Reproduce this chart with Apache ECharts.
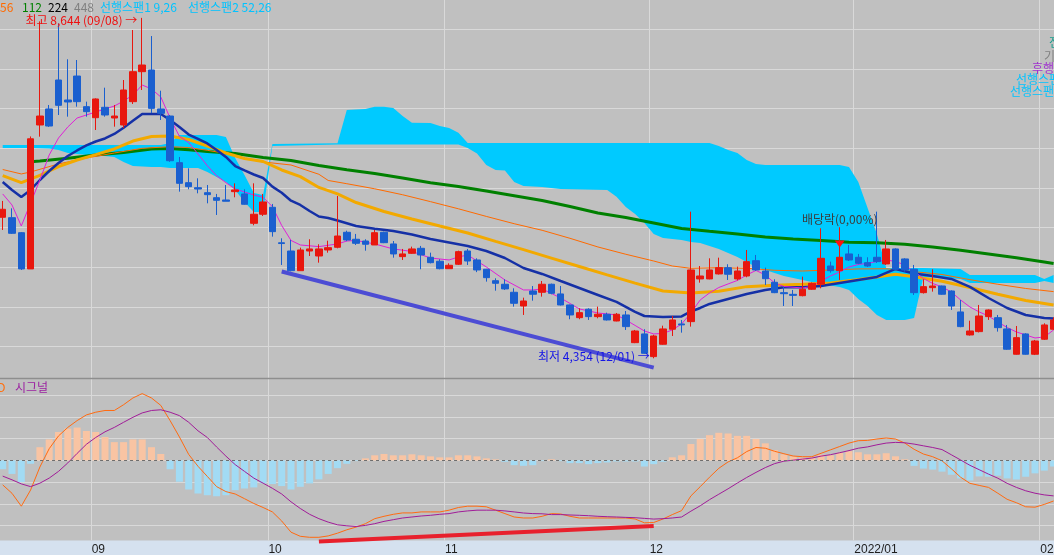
<!DOCTYPE html>
<html><head><meta charset="utf-8">
<script src="https://cdn.jsdelivr.net/npm/echarts@6/dist/echarts.min.js"></script>
<style>html,body{margin:0;padding:0;background:#c0c0c0;}#c{width:1054px;height:555px;}</style>
</head><body><div id="c"></div><script>
const categories = [
'2021-08-18','2021-08-19','2021-08-20','2021-08-23','2021-08-24','2021-08-25','2021-08-26','2021-08-27','2021-08-30','2021-08-31',
'2021-09-01','2021-09-02','2021-09-03','2021-09-06','2021-09-07','2021-09-08','2021-09-09','2021-09-10','2021-09-13','2021-09-14',
'2021-09-15','2021-09-16','2021-09-17','2021-09-23','2021-09-24','2021-09-27','2021-09-28','2021-09-29','2021-09-30',
'2021-10-01','2021-10-05','2021-10-06','2021-10-07','2021-10-08','2021-10-12','2021-10-13','2021-10-14','2021-10-15','2021-10-18',
'2021-10-19','2021-10-20','2021-10-21','2021-10-22','2021-10-25','2021-10-26','2021-10-27','2021-10-28','2021-10-29',
'2021-11-01','2021-11-02','2021-11-03','2021-11-04','2021-11-05','2021-11-08','2021-11-09','2021-11-10','2021-11-11','2021-11-12',
'2021-11-15','2021-11-16','2021-11-17','2021-11-18','2021-11-19','2021-11-22','2021-11-23','2021-11-24','2021-11-25','2021-11-26',
'2021-11-29','2021-11-30',
'2021-12-01','2021-12-02','2021-12-03','2021-12-06','2021-12-07','2021-12-08','2021-12-09','2021-12-10','2021-12-13','2021-12-14',
'2021-12-15','2021-12-16','2021-12-17','2021-12-20','2021-12-21','2021-12-22','2021-12-23','2021-12-24','2021-12-27','2021-12-28',
'2021-12-29','2021-12-30',
'2022-01-03','2022-01-04','2022-01-05','2022-01-06','2022-01-07','2022-01-10','2022-01-11','2022-01-12','2022-01-13','2022-01-14',
'2022-01-17','2022-01-18','2022-01-19','2022-01-20','2022-01-21','2022-01-24','2022-01-25','2022-01-26','2022-01-27','2022-01-28',
'2022-02-03','2022-02-04'];

const opens = [6131,6126,5937,5480,7294,7496,7861,7609,7911,7525,
7386,7517,7382,7294,7588,7966,7987,7496,7407,6819,
6567,6504,6441,6378,6349,6454,6425,6055,6169,6257,
5810,5706,5458,5706,5643,5719,5753,5942,5854,5832,
5782,5942,5795,5635,5677,5740,5627,5577,5483,5539,
5706,5593,5476,5332,5287,5186,5013,5202,5186,5287,
5165,5026,4866,4972,4879,4909,4824,4900,4551,4661,
4375,4531,4720,4787,4816,5354,5354,5417,5496,5354,
5391,5584,5454,5312,5181,5160,5143,5224,5287,5517,
5458,5669,5627,5559,5627,5543,5732,5606,5476,5181,
5244,5265,5202,4938,4648,4690,4879,4866,4724,4405,
4661,4405,4594,4720];
const closes = [6232,5929,5480,7120,7407,7281,7542,7584,7588,7462,
7622,7420,7407,7735,7966,8050,7504,7441,6844,6559,
6517,6487,6416,6345,6333,6475,6295,6169,6324,5950,
5800,5458,5719,5732,5732,5748,5895,5845,5803,5791,
5937,5811,5669,5669,5732,5656,5559,5483,5526,5698,
5580,5467,5370,5299,5228,5047,5076,5161,5287,5173,
5026,4900,4929,4879,4909,4837,4909,4753,4698,4417,
4635,4724,4837,4775,5467,5391,5467,5496,5413,5454,
5572,5467,5357,5181,5168,5147,5224,5299,5614,5458,
5627,5593,5551,5517,5572,5732,5476,5467,5181,5257,
5265,5161,5013,4753,4698,4887,4963,4740,4468,4614,
4405,4572,4774,4837];
const lows = [5971,5921,5467,5480,7147,7270,7420,7399,7525,7399,
7231,7399,7273,7256,7559,7735,7445,7357,6830,6454,
6484,6433,6307,6160,6333,6383,6290,6030,6147,5887,
5530,5450,5458,5643,5559,5685,5740,5830,5782,5710,
5782,5805,5622,5593,5670,5476,5550,5475,5480,5530,
5530,5440,5320,5206,5215,5005,4900,5080,5131,5160,
5020,4846,4846,4837,4858,4830,4820,4711,4545,4410,
4354,4525,4635,4677,4753,5307,5350,5410,5341,5335,
5375,5455,5278,5175,5013,5013,5135,5215,5236,5433,
5341,5580,5540,5505,5555,5530,5465,5446,5152,5170,
5194,5155,4963,4745,4640,4680,4837,4690,4460,4400,
4400,4395,4585,4710];
const highs = [6337,6244,5945,7150,8600,7546,8575,8122,8113,7588,
7630,7764,7546,7861,8491,8644,8415,7726,7420,6891,
6748,6622,6538,6425,6538,6559,6484,6559,6425,6299,
5866,5845,5748,5854,5791,5836,6399,5962,5921,5854,
5971,5950,5832,5732,5761,5770,5685,5602,5551,5710,
5732,5614,5480,5362,5350,5236,5118,5265,5328,5295,
5265,5030,4984,4984,5005,4929,4925,4950,4711,4720,
4650,4765,4887,4837,6202,5517,5614,5622,5539,5509,
5719,5656,5496,5350,5257,5215,5383,5310,5992,5572,
6005,5782,5669,5627,6202,5845,5740,5615,5530,5350,
5476,5270,5210,5089,4828,5026,4970,4900,4774,4761,
4670,4585,4795,4870];

// moving averages: [category index, price]
const maShort = [[0,6425],[1,6286],[2,6021],[3,6311],[4,6601],[5,6916],[6,7130],[7,7269],[8,7382],[10,7458],[12,7533],[13,7596],[14,7672],[15,7798],[16,7748],[17,7647],[18,7382],[19,7151],[20,7073],[21,6929],[22,6781],[23,6655],[24,6567],[25,6488],[26,6450],[27,6412],[28,6383],[29,6265],[30,6028],[31,5839],[32,5782],[34,5761],[36,5795],[37,5832],[38,5839],[40,5795],[42,5732],[44,5700],[46,5618],[48,5593],[49,5631],[50,5656],[52,5505],[54,5341],[56,5215],[57,5215],[58,5228],[60,5114],[62,4976],[64,4925],[66,4900],[67,4837],[68,4768],[69,4698],[70,4661],[71,4667],[72,4711],[73,4787],[74,4925],[75,5089],[76,5177],[77,5246],[78,5291],[79,5335],[80,5404],[81,5461],[82,5404],[83,5303],[84,5259],[86,5240],[87,5259],[88,5328],[89,5391],[90,5442],[91,5505],[92,5536],[93,5551],[94,5574],[95,5593],[96,5574],[97,5530],[98,5448],[99,5360],[100,5297],[101,5253],[102,5190],[103,5089],[104,5001],[105,4938],[106,4887],[107,4812],[108,4742],[109,4686],[110,4648],[111,4610],[112,4623],[113,4711]];
const maMid = [[0,6576],[1,6475],[2,6387],[3,6475],[4,6601],[5,6714],[6,6815],[7,6903],[8,6973],[9,7036],[10,7086],[11,7124],[12,7181],[13,7260],[14,7348],[15,7433],[17,7433],[18,7357],[19,7269],[20,7174],[21,7118],[22,7061],[23,6979],[24,6891],[25,6777],[26,6721],[27,6670],[28,6626],[29,6517],[30,6441],[31,6340],[32,6286],[33,6210],[34,6141],[35,6122],[36,6091],[38,6021],[40,5987],[42,5958],[44,5914],[46,5858],[48,5814],[50,5769],[52,5706],[54,5618],[56,5492],[58,5417],[60,5328],[62,5240],[64,5152],[66,5064],[67,5001],[68,4938],[69,4887],[71,4875],[73,4881],[74,4944],[75,4988],[76,5039],[78,5102],[80,5164],[82,5215],[84,5249],[86,5249],[88,5265],[90,5303],[92,5341],[94,5379],[96,5480],[98,5423],[100,5391],[102,5354],[104,5253],[106,5114],[108,4988],[110,4900],[112,4862],[113,4856]];
const maOrange = [[0,6733],[2,6677],[3,6702],[6,6803],[9,6878],[12,6941],[15,7000],[18,7021],[20,7010],[22,6975],[24,6935],[26,6872],[28,6828],[31,6790],[34,6673],[35,6595],[37,6554],[40,6490],[43,6415],[46,6328],[49,6238],[52,6142],[55,6050],[58,5967],[61,5866],[64,5757],[67,5665],[70,5580],[72,5517],[74,5488],[77,5496],[80,5488],[83,5463],[86,5454],[89,5467],[92,5480],[95,5482],[98,5446],[101,5410],[104,5345],[107,5287],[110,5234],[113,5194]];
const maGold = [[0,6655],[2,6567],[4,6658],[6,6769],[8,6853],[10,6920],[12,6992],[14,7092],[16,7149],[18,7155],[20,7111],[22,7029],[24,6941],[26,6872],[28,6834],[30,6727],[32,6643],[34,6507],[36,6425],[38,6317],[41,6204],[44,6110],[47,6021],[50,5933],[53,5827],[56,5723],[59,5617],[62,5511],[65,5405],[68,5301],[71,5202],[74,5177],[77,5200],[80,5257],[83,5274],[86,5287],[89,5303],[92,5347],[94,5379],[96,5414],[98,5381],[101,5325],[104,5246],[107,5161],[110,5083],[113,5026]];
const maGreen = [[3,6832],[4,6840],[7,6876],[10,6916],[13,6947],[16,6992],[18,6998],[20,6983],[22,6960],[25,6935],[28,6885],[31,6847],[34,6784],[37,6731],[40,6683],[43,6626],[46,6567],[49,6519],[52,6462],[55,6403],[58,6343],[61,6267],[64,6185],[67,6128],[70,6059],[73,5990],[76,5955],[79,5921],[82,5883],[85,5858],[88,5839],[91,5816],[94,5811],[97,5791],[100,5757],[103,5715],[106,5669],[109,5622],[112,5568],[113,5549]];

// ichimoku cloud edges (higher / lower span) at sampled indices
const cloudIdx =   [0,3,5,6,7,9,11,12,13,14,16,17,18,19,20,21,22,23,24,25,26,27,28,29,36,37,39,40,41,42,43,44,46,47,48,49,50,51,52,53,54,55,56,58,60,65,66,67,68,69,70,71,73,74,75,76,77,78,79,80,81,82,84,86,88,90,91,92,93,94,95,97,98,99,103,104,111,112,113];
const cloudUpper = [7042,7042,7042,7042,7042,7042,7042,7042,7042,7042,7042,7042,7067,7168,7168,7168,7168,7168,7143,6878,6664,6437,6412,7055,7063,7483,7496,7525,7525,7508,7407,7323,7319,7281,7256,7197,7067,7067,7067,7067,7067,7067,7067,7067,7067,7067,7067,7067,7067,7067,7067,7067,7067,7067,7067,7067,7029,6979,6941,6853,6803,6790,6790,6790,6790,6790,6765,6576,6248,5921,5492,5492,5492,5492,5480,5404,5404,5354,5404];
const cloudLower = [7004,7004,6998,6979,6941,6916,6903,6891,6828,6777,6765,6765,6752,6752,6752,6752,6702,6639,6576,6475,6324,6198,6198,7029,7048,7048,7048,7048,7048,7048,7048,7048,7048,7048,7048,7048,7004,6935,6790,6727,6721,6576,6525,6513,6488,6475,6391,6261,6173,6059,5921,5870,5845,5820,5807,5769,5732,5681,5631,5568,5505,5467,5391,5341,5291,5253,5215,5102,5013,4900,4837,4837,4862,5379,5354,5303,5303,5328,5303];

// MACD panel
const macdLine = [-56.4,-75.8,-105.5,-68.2,-15.2,27,56.4,76,91.7,104.8,
111,115,115,128.3,143.8,153.9,143.8,126.7,91.7,54.1,
13.8,-13.6,-36.9,-60.4,-71.9,-77.4,-88.2,-99.3,-108.5,-118.7,
-139.6,-165.4,-174.9,-177.2,-177.2,-174,-167.7,-159.9,-153.7,-145.8,
-134.3,-128.8,-124.2,-121,-121,-118.7,-118.7,-118.7,-114.7,-108.5,
-105.5,-105.5,-106.9,-114.7,-122.6,-130.4,-132.7,-132.7,-128.8,-122.6,
-123.5,-128.8,-132.7,-132.7,-132.7,-132.7,-132.7,-132.7,-135,-143.8,
-143.1,-135,-124.9,-115.7,-81.8,-60.6,-38.7,-18.2,-3.5,6,
20.3,29.7,28.1,21,15.4,10.1,8.5,8.5,16.4,24.2,
32,39.9,45.4,46.1,49.3,51.6,49.3,39.9,25.6,14.7,
8.5,-0.9,-19.1,-38.7,-52.8,-57.6,-62.2,-75.6,-89.6,-97.5,
-106.9,-107.8,-101.4,-93.5];
const signalLine = [-36.2,-44.7,-54.1,-60.4,-52.5,-40.8,-25.3,-5.8,16.1,37.1,
52.8,65.9,76,87.8,99.3,109.4,115,116.6,111,103.2,
87.8,68.2,52.8,30.9,9.9,-9.7,-25.3,-40.8,-52.5,-64.3,
-77.4,-95.4,-110.8,-124.2,-134.3,-142.2,-148.4,-150.7,-152.3,-149.8,
-145.8,-140.5,-136.6,-132.7,-130.4,-128.1,-126.5,-124.2,-122.6,-118.7,
-116.4,-114.7,-114.7,-114.7,-116.4,-118.7,-121.2,-122.6,-123,-124.9,
-124.9,-125.8,-126.5,-127.4,-128.8,-129.7,-130.4,-131.3,-132,-133.6,
-135.2,-134.3,-132.7,-130.4,-117,-104.6,-90.5,-77.9,-65.4,-52.1,
-39.4,-27.6,-16.6,-7.4,-1.8,0.5,3,5.3,9.9,13.1,
17.7,22.6,28.1,31.1,35.9,39.9,41.5,40.6,37.6,33.6,
29.7,25,13,1,-11.3,-21.4,-31.6,-41,-52.8,-62.2,
-70,-75.6,-79.5,-81.8];
const histogram = [-20.3,-31.2,-49.9,-7.8,30.4,48.3,65.4,73.2,75.6,67.8,
65.4,53.8,42.1,42.1,48.3,48.3,30.4,14.8,-20.3,-49.1,
-67,-76.3,-80.2,-82.6,-80.2,-68.6,-64.7,-62.3,-53,-54.5,
-59.2,-67,-60.8,-53,-43.6,-31.2,-17.9,-7.8,-1.6,4.7,
11.7,14.8,11.7,11.7,14,11.7,9.3,7,7,11.7,
11.7,9.3,4.7,2.3,-3.1,-10.9,-12.5,-11,-1.6,2.4,
-1.6,-6.3,-6.3,-8.6,-6.3,-4.7,-2.4,-2.4,-2.4,-14.1,
-8.6,-3.1,7.1,11.8,37.7,49.5,58.1,63.6,62,56.5,
56.5,49.5,39.3,23.6,14.1,9.4,6.3,6.3,13.3,11.8,
17.3,21.2,18.8,14.1,14.1,16.5,9.4,2.4,-12.6,-18.8,
-21.2,-25.9,-33,-41.6,-46.3,-36.9,-37.7,-35.3,-41.6,-44,
-37.7,-29.8,-23.6,-14.1];

// drawn trend lines: [category index, value]
const priceTrend = [[30,5448],[70,4236]];
const macdTrend = [[34,-187],[70,-151]];
// annotations: [category index, value]
const highMark = [15, 8644];
const lowMark = [70, 4354];
const dividendText = [90, 6110];
const dividendArrow = [90, 5795];

const priceTicks = {min: 4000, max: 9000, interval: 500};
const macdTicks = {min: -200, max: 200, interval: 50};

const UP = '#e8170e', DOWN = '#1a5fcf', GRID = '#d9d9d9';
const KFONT = '"Noto Sans CJK KR", "Noto Sans", sans-serif';

function monthStart(idx) {
  return idx > 0 && categories[idx].slice(5,7) !== categories[idx-1].slice(5,7);
}
function monthLabel(v) {
  const mm = v.slice(5,7);
  return mm === '01' ? v.slice(0,4) + '/' + mm : mm;
}

const gridBase = {left: -1.95, width: 1060.2, outerBoundsMode: 'none', containLabel: false};
const hiddenCat = (gi, extra) => Object.assign({
  type: 'category', gridIndex: gi, data: categories, boundaryGap: true,
  axisLine: {show: false}, axisTick: {show: false}, axisLabel: {show: false},
  splitLine: {show: false}
}, extra || {});
const vSplit = {show: true, interval: monthStart, lineStyle: {color: GRID, width: 1}};

const chart = echarts.init(document.getElementById('c'), null, {renderer: 'canvas'});
const candleData = opens.map((o, i) => [o, closes[i], lows[i], highs[i]]);

function txt(text, x, y, color, align) {
  return {type: 'text', x: x, y: y, z: 50, silent: true,
    style: {text: text, fill: color, fontSize: 12, fontFamily: KFONT, align: align || 'left', verticalAlign: 'middle'}};
}

chart.setOption({
  animation: false,
  backgroundColor: '#c0c0c0',
  grid: [
    Object.assign({top: -10.375, height: 396.75}, gridBase),
    Object.assign({top: 373.6, height: 173.6}, gridBase),
    Object.assign({top: 378.3, height: 162.2}, gridBase),
    Object.assign({top: 540.5, height: 14.5, show: true, backgroundColor: '#d5e1ef', borderWidth: 0}, gridBase)
  ],
  xAxis: [
    hiddenCat(0, {splitLine: vSplit}),
    hiddenCat(1),
    hiddenCat(2, {splitLine: vSplit}),
    hiddenCat(3, {
      position: 'top',
      axisTick: {show: true, inside: true, length: 15, interval: monthStart, lineStyle: {color: '#9c9c9c'}},
      axisLabel: {show: true, inside: true, interval: monthStart, align: 'left', margin: 3,
        padding: [0, 0, 0, -4], color: '#1e1e1e', fontSize: 12, fontFamily: '"Liberation Sans", Arial, sans-serif',
        formatter: (v) => monthLabel(v)}
    })
  ],
  yAxis: [
    {type: 'value', gridIndex: 0, min: priceTicks.min, max: priceTicks.max, interval: priceTicks.interval,
      axisLine: {show: false}, axisTick: {show: false}, axisLabel: {show: false},
      splitLine: {show: true, showMinLine: false, showMaxLine: false, lineStyle: {color: GRID}}},
    {type: 'value', gridIndex: 1, min: macdTicks.min, max: macdTicks.max, interval: macdTicks.interval,
      axisLine: {show: false}, axisTick: {show: false}, axisLabel: {show: false},
      splitLine: {show: true, showMinLine: false, showMaxLine: false, lineStyle: {color: GRID}}},
    {type: 'value', gridIndex: 2, show: false},
    {type: 'value', gridIndex: 3, show: false}
  ],
  series: [
    {type: 'custom', xAxisIndex: 0, yAxisIndex: 0, z: 1, silent: true, data: [0],
      renderItem: function (params, api) {
        const pts = [];
        for (let k = 0; k < cloudIdx.length; k++) pts.push(api.coord([cloudIdx[k], cloudUpper[k]]));
        for (let k = cloudIdx.length - 1; k >= 0; k--) pts.push(api.coord([cloudIdx[k], cloudLower[k]]));
        return {type: 'polygon', shape: {points: pts}, style: {fill: '#00caff'}};
      }},
    {type: 'line', name: 'green', xAxisIndex: 0, yAxisIndex: 0, z: 2, data: maGreen, symbol: 'none', silent: true,
      lineStyle: {color: '#008000', width: 3}},
    {type: 'line', name: 'orange', xAxisIndex: 0, yAxisIndex: 0, z: 2, data: maOrange, symbol: 'none', silent: true,
      lineStyle: {color: '#ff6a00', width: 1}},
    {type: 'line', name: 'gold', xAxisIndex: 0, yAxisIndex: 0, z: 2, data: maGold, symbol: 'none', silent: true,
      lineStyle: {color: '#f2a900', width: 3}},
    {type: 'line', name: 'mid', xAxisIndex: 0, yAxisIndex: 0, z: 2, data: maMid, symbol: 'none', silent: true,
      lineStyle: {color: '#1530a6', width: 2.5}},
    {type: 'line', name: 'short', xAxisIndex: 0, yAxisIndex: 0, z: 2, data: maShort, symbol: 'none', silent: true,
      lineStyle: {color: '#e020d8', width: 1}},
    {type: 'candlestick', xAxisIndex: 0, yAxisIndex: 0, z: 3, data: candleData, barWidth: 7, silent: true,
      itemStyle: {color: UP, color0: DOWN, borderColor: UP, borderColor0: DOWN, borderWidth: 1},
      markPoint: {silent: true, animation: false, data: [
        {coord: highMark, symbol: 'circle', symbolSize: 0.1, itemStyle: {color: 'rgba(0,0,0,0)'},
          label: {show: true, position: 'left', distance: 5, offset: [0, 3], color: '#ee1010', fontSize: 12, fontFamily: KFONT,
            formatter: '최고 8,644 (09/08) →'}},
        {coord: lowMark, symbol: 'circle', symbolSize: 0.1, itemStyle: {color: 'rgba(0,0,0,0)'},
          label: {show: true, position: 'left', distance: 4, offset: [0, -2], color: '#1414e6', fontSize: 12, fontFamily: KFONT,
            formatter: '최저 4,354 (12/01) →'}},
        {coord: dividendText, symbol: 'circle', symbolSize: 0.1, itemStyle: {color: 'rgba(0,0,0,0)'},
          label: {show: true, position: 'inside', color: '#3c3c3c', fontSize: 12, fontFamily: KFONT, formatter: '배당락(0,00%)'}},
        {coord: dividendArrow, symbol: 'triangle', symbolRotate: 180, symbolSize: [10, 7], itemStyle: {color: '#ff1010'},
          label: {show: false}}
      ]}},
    {type: 'line', xAxisIndex: 0, yAxisIndex: 0, z: 4, data: priceTrend, symbol: 'none', silent: true,
      lineStyle: {color: '#4c4cd4', width: 4}},
    {type: 'bar', xAxisIndex: 1, yAxisIndex: 1, z: 2, data: histogram, barWidth: 7, silent: true,
      itemStyle: {color: (p) => p.value >= 0 ? '#f9c4a3' : '#a2dbf4'},
      markLine: {silent: true, symbol: 'none', label: {show: false}, animation: false,
        lineStyle: {color: '#6e6e6e', type: [3, 3], width: 1}, data: [{yAxis: 0}]}},
    {type: 'line', xAxisIndex: 1, yAxisIndex: 1, z: 3, data: macdLine, symbol: 'none', silent: true,
      lineStyle: {color: '#ff6a10', width: 1}},
    {type: 'line', xAxisIndex: 1, yAxisIndex: 1, z: 3, data: signalLine, symbol: 'none', silent: true,
      lineStyle: {color: '#a01c98', width: 1}},
    {type: 'line', xAxisIndex: 1, yAxisIndex: 1, z: 4, data: macdTrend, symbol: 'none', silent: true,
      lineStyle: {color: '#e8202c', width: 4}}
  ],
  graphic: [
    {type: 'line', z: 50, silent: true, shape: {x1: 0, y1: 378.5, x2: 1054, y2: 378.5}, style: {stroke: '#8e8e8e', lineWidth: 1.5}},
    txt('56', 0, 7, '#ff6a00'),
    txt('112', 22, 7, '#008000'),
    txt('224', 48, 7, '#000000'),
    txt('448', 74, 7, '#808080'),
    txt('선행스팬1 9,26', 100, 7, '#00c3ff'),
    txt('선행스팬2 52,26', 188, 7, '#00c3ff'),
    txt('전환선', 1049, 42, '#1a9c8c'),
    txt('기준선', 1044, 56, '#808080'),
    txt('후행스팬', 1032, 68, '#a030d0'),
    txt('선행스팬1', 1016, 79, '#00c3ff'),
    txt('선행스팬2', 1010, 91, '#00c3ff'),
    txt('MACD', 5.5, 387, '#ff7010', 'right'),
    txt('시그널', 15, 387, '#9a1ea0')
  ]
});
</script></body></html>
